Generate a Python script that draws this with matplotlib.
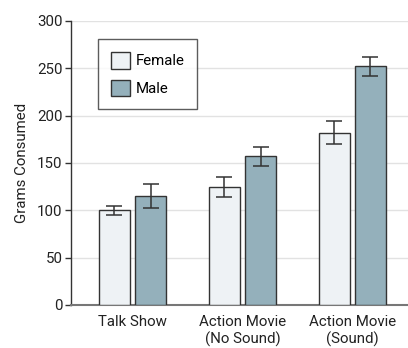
import numpy as np
import matplotlib.pyplot as plt
from matplotlib.patches import Patch

plt.rcParams['font.family'] = ['Roboto', 'DejaVu Sans']

conditions = ["Talk Show", "Action Movie\n(No Sound)", "Action Movie\n(Sound)"]
female = [100, 125, 182]
female_err = [5, 10.5, 12]
male = [115, 157, 252]
male_err = [12.5, 10, 10]

female_color = "#eef2f5"
male_color = "#94b0bb"
edge = "#333333"

fig = plt.figure(figsize=(4.08, 3.48), dpi=100)
ax = fig.add_axes([0.174, 0.1236, 0.826, 0.8161])

x = np.arange(len(conditions))
w = 0.282
off = 0.164
err_kw = dict(ecolor="#333333", elinewidth=1.1, capsize=5.5, capthick=1.1)
ax.bar(x - off, female, w, yerr=female_err, color=female_color,
       edgecolor=edge, linewidth=1.0, error_kw=err_kw, zorder=3)
ax.bar(x + off, male, w, yerr=male_err, color=male_color,
       edgecolor=edge, linewidth=1.0, error_kw=err_kw, zorder=3)

ax.set_xlim(-0.559, 2.505)
ax.set_ylim(0, 300)
ax.set_yticks(range(0, 301, 50))
ax.set_xticks(x)
ax.set_xticklabels(conditions, fontsize=10.8, color="#222222", linespacing=1.25)
ax.tick_params(axis="x", length=0, pad=7)
ax.tick_params(axis="y", length=4, width=1, color="#333333",
               labelsize=10.8, labelcolor="#222222", pad=2)
ax.yaxis.grid(True, color="#e2e2e2", linewidth=1, zorder=0)
ax.set_axisbelow(True)

for s in ["top", "right"]:
    ax.spines[s].set_visible(False)
ax.spines["left"].set_color("#333333")
ax.spines["left"].set_linewidth(1)
ax.spines["bottom"].set_color("#777777")
ax.spines["bottom"].set_linewidth(1.5)

ax.set_ylabel("Grams Consumed", fontsize=10.8, color="#222222", labelpad=6)

handles = [Patch(facecolor=female_color, edgecolor=edge, label="Female"),
           Patch(facecolor=male_color, edgecolor=edge, label="Male")]
leg = ax.legend(handles=handles, loc="upper left", bbox_to_anchor=(0.080, 0.935),
                fontsize=10.8, frameon=True, fancybox=False, handlelength=1.3,
                handleheight=1.3, borderpad=0.85, labelspacing=0.75,
                handletextpad=0.35, borderaxespad=0)
leg.get_frame().set_edgecolor("#333333")
leg.get_frame().set_linewidth(1)

fig.savefig("out.png", dpi=100)
